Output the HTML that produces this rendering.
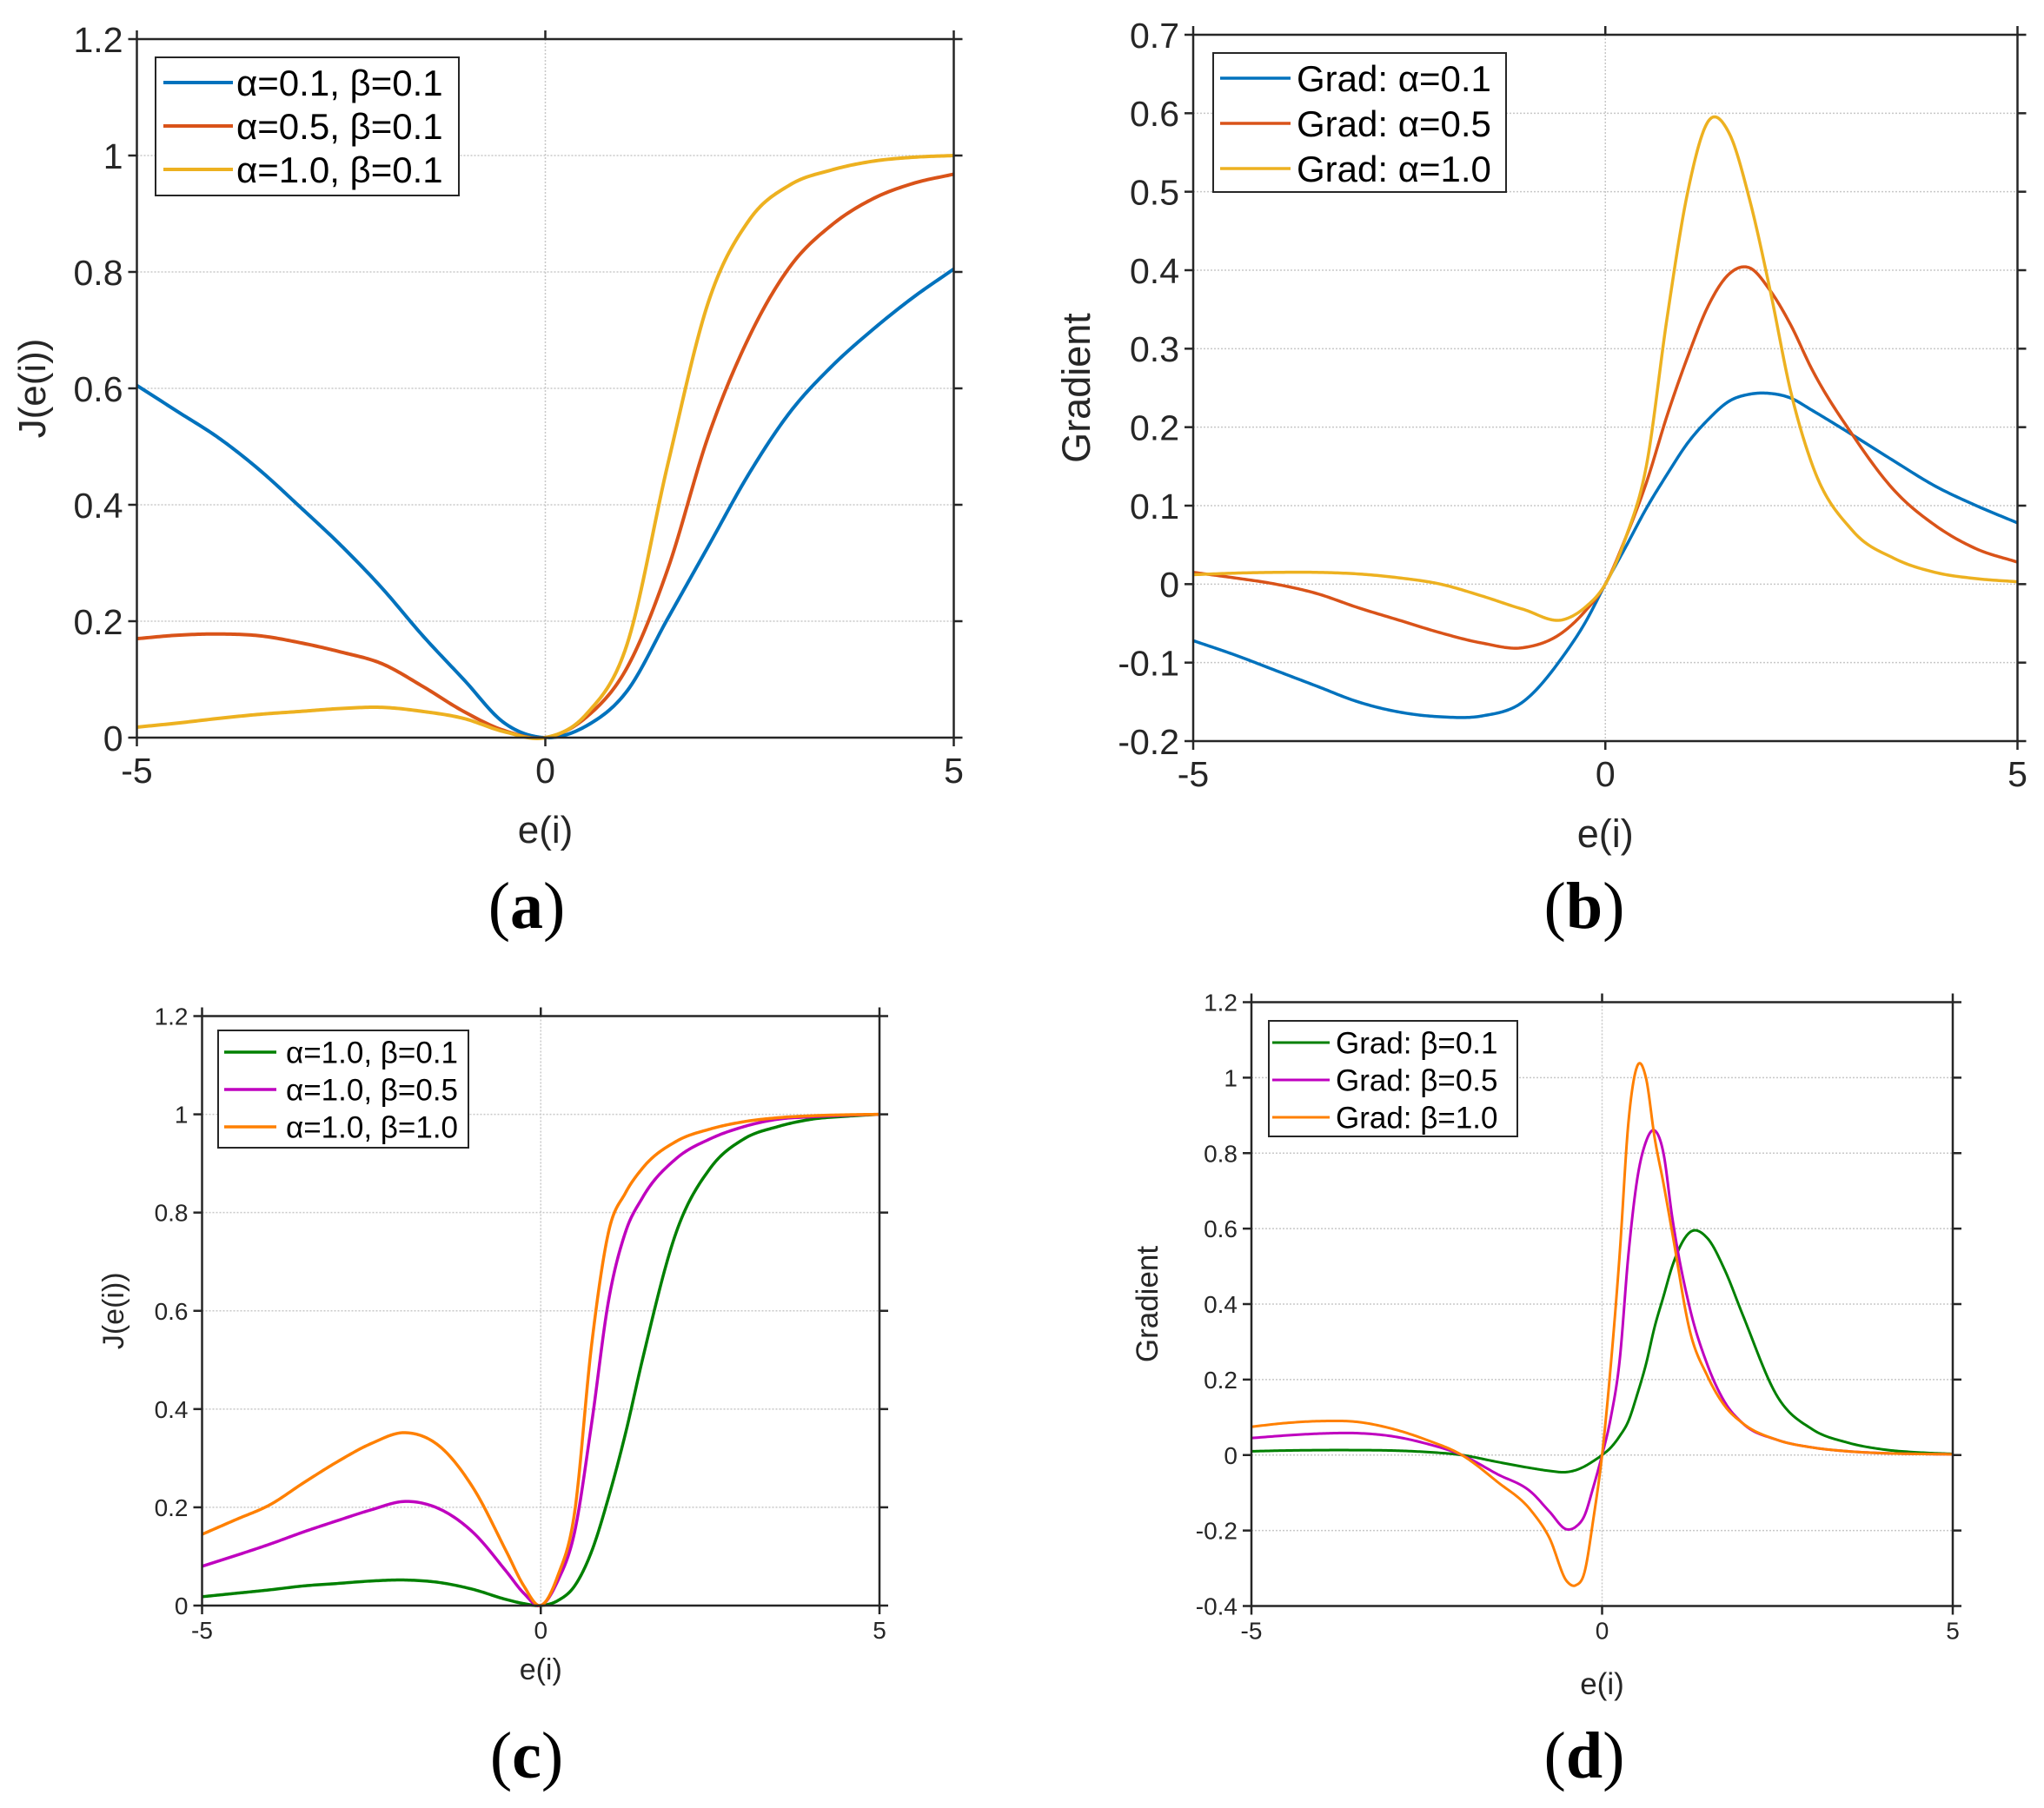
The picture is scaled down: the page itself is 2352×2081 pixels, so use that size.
<!DOCTYPE html>
<html><head><meta charset="utf-8">
<style>
html,body{margin:0;padding:0;background:#fff;}
svg{display:block;}
</style></head>
<body>
<svg id="fig" xmlns="http://www.w3.org/2000/svg" width="2352" height="2081" viewBox="0 0 2352 2081">
<rect width="2352" height="2081" fill="#fff"/>
</svg>
<script>
// ---- Panel (a) data ----
const xsA = [-5,-4.5,-4,-3.5,-3,-2.5,-2,-1.5,-1,-0.5,0,0.5,1,1.5,2,2.5,3,3.5,4,4.5,5];
const aBlue = [.605,.56,.515,.46,.396,.33,.257,.175,.1,.025,0,.02,.08,.205,.33,.455,.56,.637,.70,.756,.805];
const aRed = [.17,.176,.178,.175,.163,.147,.127,.088,.045,.012,0,.035,.12,.29,.52,.69,.81,.88,.925,.952,.968];
const aYellow = [.018,.025,.033,.04,.045,.05,.052,.045,.033,.01,0,.04,.16,.47,.75,.89,.95,.975,.99,.997,1.0];
const aLabels = ["α=0.1, β=0.1","α=0.5, β=0.1","α=1.0, β=0.1"];
const aYTicks = [0,0.2,0.4,0.6,0.8,1,1.2];
// ---- Panel (b) data ----
const xsB = [-5,-4.5,-4,-3.5,-3,-2.5,-2,-1.5,-1,-0.5,-0.25,0,0.25,0.5,0.75,1,1.25,1.5,1.75,2,2.25,2.5,3,3.5,4,4.5,5];
const bBlue = [-.072,-.09,-.11,-.13,-.15,-.163,-.169,-.168,-.15,-.09,-.05,0,.048,.097,.14,.18,.21,.233,.242,.243,.237,.222,.19,.157,.125,.1,.078];
const bRed = [.015,.008,0,-.012,-.03,-.046,-.062,-.075,-.081,-.06,-.035,0,.06,.13,.215,.29,.355,.395,.403,.374,.33,.275,.19,.12,.075,.045,.028];
const bYellow = [.012,.014,.015,.015,.013,.008,0,-.015,-.032,-.045,-.03,0,.06,.152,.34,.5,.59,.575,.49,.374,.245,.155,.068,.033,.015,.007,.003];
const bLabels = ["Grad: α=0.1","Grad: α=0.5","Grad: α=1.0"];
const bYTicks = [-0.2,-0.1,0,0.1,0.2,0.3,0.4,0.5,0.6,0.7];
// ---- Panel (c) data ----
const xsC = [-5,-4.5,-4,-3.5,-3,-2.5,-2,-1.5,-1,-0.5,-0.25,0,0.25,0.5,0.75,1,1.25,1.5,2,2.5,3,3.5,4,4.5,5];
const cGreen = [.018,.025,.032,.04,.045,.05,.052,.047,.033,.012,.004,0,.01,.04,.11,.22,.35,.5,.76,.89,.95,.975,.99,.996,1.0];
const cMagenta = [.08,.102,.125,.15,.173,.195,.212,.197,.149,.068,.025,0,.05,.15,.37,.62,.76,.83,.91,.95,.975,.99,.995,.998,1];
const cOrange = [.145,.175,.205,.25,.293,.33,.352,.325,.24,.108,.04,0,.06,.19,.53,.76,.84,.89,.945,.97,.985,.993,.997,.999,1];
const cLabels = ["α=1.0, β=0.1","α=1.0, β=0.5","α=1.0, β=1.0"];
const cYTicks = [0,0.2,0.4,0.6,0.8,1,1.2];
// ---- Panel (d) data ----
const xsD = [-5,-4.5,-4,-3.5,-3,-2.5,-2,-1.5,-1,-0.75,-0.5,-0.375,-0.25,-0.125,0,0.125,0.25,0.375,0.5,0.625,0.75,0.875,1,1.25,1.5,1.75,2,2.5,3,3.5,4,4.5,5];
const dGreen = [.01,.012,.013,.013,.012,.008,0,-.018,-.035,-.042,-.045,-.04,-.03,-.016,0,.02,.05,.09,.16,.24,.34,.42,.5,.59,.575,.49,.374,.155,.068,.033,.015,.007,.003];
const dMagenta = [.045,.052,.057,.058,.05,.03,0,-.05,-.1,-.15,-.197,-.19,-.16,-.085,0,.1,.25,.53,.73,.83,.86,.8,.63,.39,.24,.14,.085,.04,.02,.01,.005,.003,.002];
const dOrange = [.075,.085,.09,.088,.07,.04,0,-.07,-.15,-.22,-.335,-.345,-.31,-.17,0,.24,.53,.88,1.03,1.0,.84,.72,.59,.33,.21,.13,.085,.04,.02,.01,.005,.003,.002];
const dLabels = ["Grad: β=0.1","Grad: β=0.5","Grad: β=1.0"];
const dYTicks = [-0.4,-0.2,0,0.2,0.4,0.6,0.8,1,1.2];
const xTicks = [-5,0,5];

const NS = "http://www.w3.org/2000/svg";
const svg = document.getElementById('fig');
function mk(tag, attrs, parent){
  const e = document.createElementNS(NS, tag);
  for (const k in attrs) e.setAttribute(k, attrs[k]);
  (parent||svg).appendChild(e);
  return e;
}
function fmt(v){ return (Math.round(v*10)/10).toString(); }

function smoothPath(xs, ys, X, Y){
  const n = xs.length, m = [];
  for (let i=0;i<n;i++){
    if (i===0) m.push((ys[1]-ys[0])/(xs[1]-xs[0]));
    else if (i===n-1) m.push((ys[n-1]-ys[n-2])/(xs[n-1]-xs[n-2]));
    else {
      const h0=xs[i]-xs[i-1], h1=xs[i+1]-xs[i];
      const d0=(ys[i]-ys[i-1])/h0, d1=(ys[i+1]-ys[i])/h1;
      m.push((d0*h1+d1*h0)/(h0+h1));
    }
  }
  let p = "M"+X(xs[0]).toFixed(2)+","+Y(ys[0]).toFixed(2);
  for (let i=0;i<n-1;i++){
    const h = xs[i+1]-xs[i];
    for (let k=1;k<=20;k++){
      const t=k/20, t2=t*t, t3=t2*t;
      const v=(2*t3-3*t2+1)*ys[i]+(t3-2*t2+t)*h*m[i]+(-2*t3+3*t2)*ys[i+1]+(t3-t2)*h*m[i+1];
      p += "L"+X(xs[i]+t*h).toFixed(2)+","+Y(v).toFixed(2);
    }
  }
  return p;
}

function panel(cfg){
  const g = mk('g', {});
  
  
  const X = v => cfg.L + (v - (-5)) / 10 * (cfg.R - cfg.L);
  const Y = v => cfg.B - (v - cfg.ymin) / (cfg.ymax - cfg.ymin) * (cfg.B - cfg.T);
  cfg.yticks.forEach(t => {
    if (Math.abs(t-cfg.ymin)<1e-9 || Math.abs(t-cfg.ymax)<1e-9) return;
    const gl = mk('line', {x1:cfg.L, x2:cfg.R, y1:Y(t), y2:Y(t), stroke:'#c8c8c8', 'stroke-width':1.5, 'stroke-dasharray':'2,2'}, g);
    
    
  });
  const vg = mk('line', {x1:X(0), x2:X(0), y1:cfg.T, y2:cfg.B, stroke:'#c8c8c8', 'stroke-width':1.5, 'stroke-dasharray':'2,2'}, g);
  
  
  const clipId = 'clip-' + cfg.name;
  const cp = mk('clipPath', {id: clipId}, g);
  mk('rect', {x:cfg.L, y:cfg.T-20, width:cfg.R-cfg.L, height:cfg.B-cfg.T+40}, cp);
  cfg.series.forEach((s, i) => {
    const p = mk('path', {d: smoothPath(cfg.xs, s.ys, X, Y), fill:'none', stroke:s.color, 'stroke-width':cfg.lw, 'stroke-linejoin':'round', 'clip-path':'url(#'+clipId+')'}, g);
    
    
  });
  const box = mk('rect', {x:cfg.L, y:cfg.T, width:cfg.R-cfg.L, height:cfg.B-cfg.T, fill:'none', stroke:'#262626', 'stroke-width':2.5}, g);
  
  
  const tl = 10;
  cfg.yticks.forEach(t => {
    mk('line', {x1:cfg.L-tl, x2:cfg.L, y1:Y(t), y2:Y(t), stroke:'#262626','stroke-width':2.5}, g);
    mk('line', {x1:cfg.R, x2:cfg.R+tl, y1:Y(t), y2:Y(t), stroke:'#262626','stroke-width':2.5}, g);
    const tx = mk('text', {x:cfg.L-16, y:Y(t)+cfg.fs*0.36, 'text-anchor':'end', 'font-size':cfg.fs, fill:'#262626'}, g);
    tx.textContent = fmt(t);
    
    
  });
  xTicks.forEach(t => {
    mk('line', {x1:X(t), x2:X(t), y1:cfg.B, y2:cfg.B+tl, stroke:'#262626','stroke-width':2.5}, g);
    mk('line', {x1:X(t), x2:X(t), y1:cfg.T-tl, y2:cfg.T, stroke:'#262626','stroke-width':2.5}, g);
    const tx = mk('text', {x:X(t), y:cfg.B+cfg.xtickDy, 'text-anchor':'middle', 'font-size':cfg.fs, fill:'#262626'}, g);
    tx.textContent = t.toString();
    
    
  });
  const xl = mk('text', {x:X(0), y:cfg.xlabelY, 'text-anchor':'middle', 'font-size':cfg.lfs, fill:'#262626'}, g);
  xl.textContent = 'e(i)';
  
  
  const ym = (cfg.T+cfg.B)/2;
  const yl = mk('text', {x:cfg.ylabelX, y:ym, 'text-anchor':'middle', 'font-size':cfg.lfs, fill:'#262626', transform:'rotate(-90 '+cfg.ylabelX+' '+ym+')'}, g);
  yl.textContent = cfg.ylabel;
  
  
  const lg = mk('g', {}, g);
  
  
  const lb = cfg.leg;
  mk('rect', {x:lb.x, y:lb.y, width:lb.w, height:lb.h, fill:'#fff', stroke:'#262626', 'stroke-width':2}, lg);
  cfg.series.forEach((s, i) => {
    const cy = lb.y + lb.r0 + i*lb.dy;
    const ll = mk('line', {x1:lb.x+lb.lx1, x2:lb.x+lb.lx2, y1:cy, y2:cy, stroke:s.color, 'stroke-width':cfg.lw}, lg);
    
    
    const lt = mk('text', {x:lb.x+lb.tx, y:cy+lb.fs*0.36, 'font-size':lb.fs, fill:'#000'}, lg);
    lt.textContent = cfg.labels[i];
    
    
  });
  const pl = mk('text', {x:cfg.panelX, y:cfg.panelY, 'text-anchor':'middle', 'font-size':76, 'font-family':'"Liberation Serif", serif', fill:'#000'}, g);
  pl.innerHTML = '(<tspan font-weight="bold">' + cfg.letter + '</tspan>)';
  
  
}

svg.setAttribute('font-family', '"Liberation Sans", "DejaVu Sans", sans-serif');

panel({name:'panel-a', L:157.5, R:1097.5, T:45, B:849, ymin:0, ymax:1.2, xs:xsA, yticks:aYTicks, lw:4, fs:41, lfs:44,
  series:[{ys:aBlue,color:'#0072BD'},{ys:aRed,color:'#D95319'},{ys:aYellow,color:'#EDB120'}], labels:aLabels,
  xtickDy:52, xlabelY:970, ylabelX:52, ylabel:'J(e(i))', letter:'a', panelX:606, panelY:1068,
  leg:{x:179,y:66,w:349,h:159,r0:29,dy:50,lx1:9,lx2:89,tx:93,fs:42}});
panel({name:'panel-b', L:1373, R:2321.5, T:40, B:853, ymin:-0.2, ymax:0.7, xs:xsB, yticks:bYTicks, lw:3.5, fs:41, lfs:45,
  series:[{ys:bBlue,color:'#0072BD'},{ys:bRed,color:'#D95319'},{ys:bYellow,color:'#EDB120'}], labels:bLabels,
  xtickDy:52, xlabelY:975, ylabelX:1254, ylabel:'Gradient', letter:'b', panelX:1823, panelY:1068,
  leg:{x:1396,y:61,w:337,h:160,r0:29,dy:52,lx1:8,lx2:89,tx:96,fs:42}});
panel({name:'panel-c', L:232.5, R:1012, T:1169.5, B:1848, ymin:0, ymax:1.2, xs:xsC, yticks:cYTicks, lw:3.5, fs:28, lfs:34,
  series:[{ys:cGreen,color:'#008000'},{ys:cMagenta,color:'#BF00BF'},{ys:cOrange,color:'#FF8000'}], labels:cLabels,
  xtickDy:38, xlabelY:1933, ylabelX:142, ylabel:'J(e(i))', letter:'c', panelX:606, panelY:2046,
  leg:{x:251,y:1186,w:288,h:135,r0:25,dy:43,lx1:7,lx2:67,tx:78,fs:35}});
panel({name:'panel-d', L:1440, R:2247, T:1153.5, B:1848.5, ymin:-0.4, ymax:1.2, xs:xsD, yticks:dYTicks, lw:3, fs:28, lfs:35,
  series:[{ys:dGreen,color:'#008000'},{ys:dMagenta,color:'#BF00BF'},{ys:dOrange,color:'#FF8000'}], labels:dLabels,
  xtickDy:38, xlabelY:1950, ylabelX:1332, ylabel:'Gradient', letter:'d', panelX:1823, panelY:2046,
  leg:{x:1460,y:1175,w:286,h:133,r0:25,dy:43,lx1:4,lx2:70,tx:77,fs:35}});
</script>
</body></html>
